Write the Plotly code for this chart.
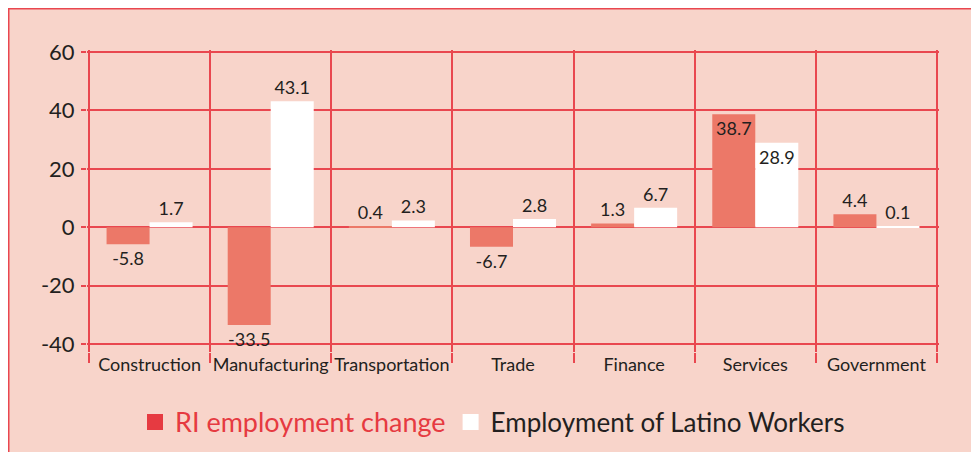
import plotly.graph_objects as go

categories = ["Construction", "Manufacturing", "Transportation", "Trade", "Finance", "Services", "Government"]
ri_change = [-5.8, -33.5, 0.4, -6.7, 1.3, 38.7, 4.4]
latino = [1.7, 43.1, 2.3, 2.8, 6.7, 28.9, 0.1]
ytick_vals = [-40, -20, 0, 20, 40, 60]
ytick_text = ["-40", "-20", "0", "20", "40", "60"]

PINK = "#F8D4CA"
RED = "#E9474F"
BAR_RED = "#EC7868"
LEG_RED = "#E63A41"
DARK = "#231F20"
FONT = "Lato"

W, H = 979, 452
ML, MR, MT, MB = 79, 48, 42, 108
PW, PH = W - ML - MR, H - MT - MB

def px_x(p):
    return (p - ML) / PW

def px_y(p):
    return (H - MB - p) / PH

xs = list(range(len(categories)))

def positions(vals, inside_idx):
    return ["inside" if i in inside_idx else "outside" for i in range(len(vals))]

label_font = dict(family=FONT, size=18, color=DARK)

fig = go.Figure()
fig.add_trace(go.Bar(
    x=xs, y=ri_change, marker=dict(color=BAR_RED, line=dict(width=0)),
    text=[str(v) for v in ri_change], textposition=positions(ri_change, {5}),
    insidetextanchor="end", textangle=0, constraintext="none", cliponaxis=False,
    textfont=label_font, insidetextfont=label_font, outsidetextfont=label_font,
    showlegend=False, name="RI employment change"))
fig.add_trace(go.Bar(
    x=xs, y=latino, marker=dict(color="#FFFFFF", line=dict(width=0)),
    text=[str(v) for v in latino], textposition=positions(latino, {5}),
    insidetextanchor="end", textangle=0, constraintext="none", cliponaxis=False,
    textfont=label_font, insidetextfont=label_font, outsidetextfont=label_font,
    showlegend=False, name="Employment of Latino Workers"))

# legend entries
fig.add_trace(go.Scatter(x=[None], y=[None], mode="markers",
                         marker=dict(symbol="square", size=16, color=LEG_RED),
                         name='<span style="color:%s;font-size:27px">RI employment change</span>' % LEG_RED))
fig.add_trace(go.Scatter(x=[None], y=[None], mode="markers",
                         marker=dict(symbol="square", size=16, color="#FFFFFF"),
                         name="Employment of Latino Workers"))

fig.update_layout(
    width=W, height=H,
    margin=dict(l=ML, r=MR, t=MT, b=MB),
    paper_bgcolor=PINK,
    plot_bgcolor="rgba(0,0,0,0)",
    barmode="group", bargap=0.29, bargroupgap=0,
    font=dict(family=FONT, color=DARK),
    legend=dict(orientation="h", x=px_x(127), xanchor="left", y=px_y(414), yanchor="middle",
                font=dict(family=FONT, size=26, color=DARK), bgcolor="rgba(0,0,0,0)",
                itemsizing="trace"),
    shapes=[dict(type="rect", xref="paper", yref="paper",
                 x0=px_x(0.75), x1=px_x(1100), y0=px_y(600), y1=px_y(0.75),
                 fillcolor="rgba(0,0,0,0)", line=dict(color=RED, width=1.5), layer="below")],
)
fig.update_xaxes(
    range=[-0.5165, 6.5165], tickvals=xs, ticktext=categories,
    showgrid=False, zeroline=False, showline=False, ticks="",
    ticklabelstandoff=0,
    tickfont=dict(family=FONT, size=18, color=DARK),
    minor=dict(tick0=-0.5, dtick=1, showgrid=True, gridcolor=RED, gridwidth=1.5,
               ticks="outside", ticklen=10, tickcolor=RED, tickwidth=1.5),
)
fig.update_yaxes(
    range=[-42.74, 60.685], tickvals=ytick_vals, ticktext=ytick_text,
    showgrid=True, gridcolor=RED, gridwidth=1.5, zeroline=False, showline=False,
    ticks="outside", ticklen=5, tickcolor=RED, tickwidth=1.5,
    ticklabelstandoff=2,
    tickfont=dict(family=FONT, size=22, color=DARK),
)

fig.write_html("out.html")
